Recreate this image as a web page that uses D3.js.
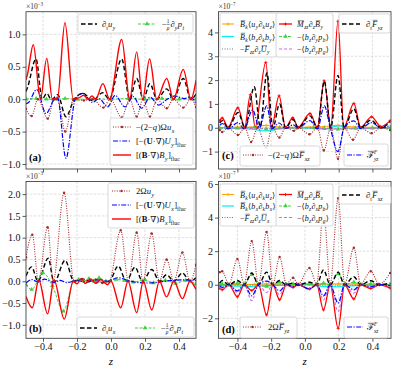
<!DOCTYPE html>
<html><head><meta charset="utf-8">
<script src="https://cdn.jsdelivr.net/npm/d3@7"></script>
<style>
body{margin:0;background:#fff}
text{font-family:"Liberation Serif","DejaVu Serif",serif}
</style>
</head><body>
<svg id="chart" width="397" height="368"></svg>
<script>
// ---- data: [z, value] pairs ----
// panel (a), units 1e-3
var aBlack = [[-0.5,0.12],[-0.49,0.19],[-0.441,0.62],[-0.405,0.0],[-0.378,0.09],[-0.35,-0.01],[-0.314,0.07],[-0.265,-0.27],[-0.216,0.0],[-0.163,0.09],[-0.11,-0.02],[-0.049,0.1],[-0.01,0.0],[0.063,0.62],[0.11,0.0],[0.151,0.32],[0.19,0.0],[0.229,0.24],[0.27,0.0],[0.328,0.16],[0.367,0.0],[0.425,0.32],[0.47,0.0],[0.5,0.08]];
var aGreen = [[-0.5,0.0],[-0.44,0.01],[-0.38,0.0],[-0.32,0.0],[-0.27,0.01],[-0.2,0.0],[-0.1,0.0],[0.0,0.0],[0.1,0.01],[0.2,0.0],[0.3,0.01],[0.4,0.0],[0.5,0.0]];
var aBrown = [[-0.5,-0.15],[-0.467,-0.26],[-0.43,0.0],[-0.372,-0.30],[-0.334,0.0],[-0.315,0.0],[-0.269,-0.50],[-0.22,0.0],[-0.16,-0.02],[-0.11,0.0],[-0.045,-0.13],[-0.005,0.0],[0.063,-0.28],[0.11,0.0],[0.151,-0.27],[0.188,0.0],[0.229,-0.27],[0.27,0.0],[0.328,-0.14],[0.367,0.0],[0.425,-0.13],[0.47,0.0],[0.5,-0.12]];
var aBlue = [[-0.5,-0.07],[-0.485,-0.05],[-0.437,0.15],[-0.382,-0.22],[-0.334,0.0],[-0.315,0.03],[-0.265,-0.91],[-0.21,0.0],[-0.165,0.09],[-0.11,-0.05],[-0.07,0.01],[-0.02,-0.12],[0.024,0.06],[0.082,-0.12],[0.13,0.04],[0.18,-0.14],[0.23,0.03],[0.28,-0.09],[0.33,0.0],[0.376,0.05],[0.43,0.01],[0.47,0.03],[0.5,-0.07]];
var aRed = [[-0.5,0.30],[-0.49,0.40],[-0.457,0.84],[-0.415,0.0],[-0.378,0.63],[-0.345,0.0],[-0.315,0.01],[-0.271,1.18],[-0.222,0.0],[-0.19,0.02],[-0.16,0.06],[-0.135,0.0],[-0.112,0.05],[-0.09,0.0],[-0.048,0.24],[-0.008,0.0],[0.063,0.92],[0.11,0.0],[0.151,0.73],[0.186,0.0],[0.227,0.62],[0.269,0.0],[0.328,0.32],[0.367,0.0],[0.425,0.46],[0.47,0.0],[0.5,0.29]];

// panel (b), units 1e-3
var bBlack = [[-0.5,0.12],[-0.467,0.33],[-0.43,0.0],[-0.369,0.53],[-0.335,-0.03],[-0.27,0.48],[-0.218,0.0],[-0.17,0.05],[-0.12,0.0],[-0.06,-0.03],[-0.01,0.0],[0.043,0.35],[0.09,0.0],[0.141,0.32],[0.185,0.0],[0.24,0.27],[0.285,0.0],[0.327,0.15],[0.37,0.0],[0.42,0.19],[0.465,0.0],[0.5,0.08]];
var bGreen = [[-0.5,-0.08],[-0.467,-0.19],[-0.4,0.19],[-0.345,-0.1],[-0.28,-0.69],[-0.22,0.0],[-0.19,0.04],[-0.16,0.0],[-0.13,0.06],[-0.1,0.0],[-0.07,0.08],[-0.03,0.0],[0.03,0.04],[0.08,0.02],[0.13,-0.02],[0.2,0.03],[0.25,-0.04],[0.32,0.02],[0.38,-0.05],[0.44,0.02],[0.5,-0.06]];
var bBrown = [[-0.5,0.55],[-0.463,1.07],[-0.427,0.0],[-0.373,1.24],[-0.34,0.0],[-0.276,2.03],[-0.218,0.0],[-0.17,0.05],[-0.13,0.0],[-0.09,0.04],[-0.05,-0.04],[-0.01,0.0],[0.057,1.17],[0.102,0.0],[0.151,1.12],[0.188,0.0],[0.239,1.10],[0.284,0.0],[0.327,0.50],[0.37,0.0],[0.42,0.66],[0.465,0.0],[0.5,0.38]];
var bBlue = [[-0.5,-0.04],[-0.465,0.04],[-0.43,-0.02],[-0.39,0.05],[-0.34,-0.03],[-0.3,0.02],[-0.26,-0.03],[-0.2,0.02],[-0.15,-0.02],[-0.08,0.03],[-0.02,0.0],[0.04,0.08],[0.1,0.02],[0.16,-0.03],[0.22,-0.04],[0.3,-0.01],[0.36,0.02],[0.42,0.03],[0.5,0.02]];
var bRed = [[-0.5,-0.35],[-0.463,-0.61],[-0.425,0.03],[-0.373,-0.75],[-0.335,0.03],[-0.275,-0.87],[-0.222,0.0],[-0.2,-0.06],[-0.175,0.06],[-0.15,-0.05],[-0.12,0.05],[-0.09,-0.05],[-0.06,0.04],[-0.02,-0.08],[0.0,0.0],[0.057,-0.61],[0.1,0.0],[0.151,-0.72],[0.19,0.0],[0.24,-0.66],[0.285,0.0],[0.327,-0.36],[0.37,0.0],[0.42,-0.40],[0.465,0.0],[0.5,-0.19]];

// panel (c), units 1e-7
var cOrange = [[-0.505,0.0],[-0.4,0.03],[-0.32,0.02],[-0.23,0.1],[-0.15,0.03],[-0.05,0.02],[0.03,0.03],[0.115,0.05],[0.196,0.1],[0.29,0.03],[0.4,0.02],[0.505,0.0]];
var cCyan = [[-0.505,0.0],[-0.4,-0.03],[-0.32,-0.06],[-0.23,-0.13],[-0.15,-0.05],[-0.05,0.0],[0.03,-0.02],[0.115,-0.05],[0.196,0.08],[0.29,-0.04],[0.4,-0.02],[0.505,0.0]];
var cGray = [[-0.505,0.0],[-0.3,-0.01],[-0.23,-0.02],[0.0,0.0],[0.196,-0.03],[0.505,0.0]];
var cRed = [[-0.505,0.3],[-0.49,0.41],[-0.455,0.02],[-0.397,0.84],[-0.357,0.02],[-0.323,1.39],[-0.295,0.02],[-0.232,2.74],[-0.198,0.02],[-0.153,1.34],[-0.115,0.02],[-0.072,0.42],[-0.04,0.02],[0.03,0.6],[0.074,0.02],[0.114,1.97],[0.153,0.02],[0.196,4.47],[0.23,0.02],[0.29,1.02],[0.33,0.02],[0.395,0.46],[0.45,0.05],[0.505,0.3]];
var cGreen = [[-0.505,-0.02],[-0.4,-0.02],[-0.3,0.02],[-0.23,-0.05],[-0.15,0.0],[-0.05,-0.02],[0.05,0.0],[0.115,-0.04],[0.196,-0.06],[0.3,-0.02],[0.4,-0.02],[0.505,0.0]];
var cMagenta = [[-0.505,0.0],[-0.3,-0.03],[-0.23,-0.05],[0.0,0.0],[0.2,-0.05],[0.505,0.0]];
var cBlack = [[-0.505,0.2],[-0.49,0.3],[-0.455,0.0],[-0.396,0.64],[-0.355,0.0],[-0.30,1.72],[-0.265,0.05],[-0.225,2.3],[-0.19,0.0],[-0.15,1.0],[-0.115,0.0],[-0.07,0.35],[-0.04,0.0],[0.03,0.5],[0.074,0.0],[0.115,1.95],[0.153,0.0],[0.196,2.2],[0.232,0.0],[0.29,0.8],[0.33,0.0],[0.39,0.32],[0.45,0.0],[0.505,0.25]];
var cBrown = [[-0.505,-0.1],[-0.49,-0.18],[-0.455,0.0],[-0.397,-0.3],[-0.357,0.0],[-0.319,-0.6],[-0.28,0.0],[-0.23,-0.83],[-0.195,0.0],[-0.151,-0.41],[-0.115,0.0],[-0.065,-0.13],[-0.04,0.0],[0.027,-0.27],[0.074,0.0],[0.112,-0.95],[0.153,0.0],[0.196,-1.3],[0.232,0.0],[0.285,-0.5],[0.33,0.0],[0.395,-0.23],[0.45,0.0],[0.505,-0.1]];
var cBlue = [[-0.505,0.1],[-0.49,0.18],[-0.455,-0.05],[-0.397,0.22],[-0.36,-0.05],[-0.31,0.75],[-0.27,0.0],[-0.226,0.92],[-0.195,-0.05],[-0.153,0.2],[-0.115,-0.03],[-0.07,0.12],[-0.04,0.0],[0.03,0.3],[0.074,-0.05],[0.115,0.92],[0.15,0.0],[0.196,-1.0],[0.232,0.0],[0.29,0.29],[0.33,-0.03],[0.394,0.22],[0.45,0.0],[0.505,0.1]];

// panel (d), units 1e-7
var dOrange = [[-0.505,0.0],[-0.3,0.02],[-0.227,0.05],[0.0,0.02],[0.2,0.05],[0.505,0.0]];
var dCyan = [[-0.505,-0.05],[-0.4,-0.08],[-0.315,-0.1],[-0.227,-0.05],[-0.1,-0.03],[0.0,0.0],[0.11,-0.1],[0.2,-0.12],[0.3,-0.05],[0.505,-0.02]];
var dGray = [[-0.505,0.0],[-0.3,-0.02],[0.0,0.0],[0.2,-0.03],[0.505,0.0]];
var dRed = [[-0.505,-0.2],[-0.49,-0.3],[-0.45,0.0],[-0.40,-0.72],[-0.36,0.0],[-0.315,-0.35],[-0.275,0.0],[-0.227,-1.8],[-0.19,0.0],[-0.15,-0.9],[-0.11,0.0],[-0.07,-0.16],[-0.04,0.0],[0.027,-0.25],[0.07,0.0],[0.11,-1.5],[0.15,0.0],[0.197,-2.6],[0.235,0.0],[0.29,-0.85],[0.33,0.0],[0.39,-0.22],[0.44,0.0],[0.505,-0.2]];
var dGreen = [[-0.505,0.0],[-0.49,0.05],[-0.45,0.0],[-0.40,0.1],[-0.36,0.0],[-0.315,0.6],[-0.275,0.0],[-0.227,-0.1],[-0.19,0.0],[-0.15,0.15],[-0.11,0.0],[-0.07,0.05],[0.027,0.05],[0.07,0.0],[0.11,0.1],[0.15,0.0],[0.197,0.66],[0.235,0.0],[0.29,0.15],[0.33,0.0],[0.39,0.05],[0.505,0.0]];
var dMagenta = [[-0.505,-0.1],[-0.49,-0.26],[-0.45,0.0],[-0.40,-0.46],[-0.36,0.0],[-0.315,-0.95],[-0.275,0.0],[-0.227,-0.46],[-0.19,0.0],[-0.15,-0.6],[-0.11,0.0],[-0.07,-0.1],[-0.04,0.0],[0.027,-0.2],[0.07,0.0],[0.11,-0.9],[0.15,0.0],[0.197,-1.6],[0.235,0.0],[0.29,-0.5],[0.33,0.0],[0.39,-0.15],[0.44,0.0],[0.505,-0.1]];
var dBlack = [[-0.505,0.1],[-0.49,0.25],[-0.45,0.0],[-0.40,0.25],[-0.36,0.0],[-0.315,0.7],[-0.275,0.0],[-0.227,0.75],[-0.19,0.0],[-0.15,0.25],[-0.11,0.0],[-0.07,0.1],[-0.04,0.0],[0.027,0.15],[0.07,0.0],[0.11,0.88],[0.15,0.0],[0.197,0.75],[0.235,0.0],[0.29,0.48],[0.33,0.0],[0.39,0.24],[0.44,0.0],[0.505,0.1]];
var dBrown = [[-0.505,0.75],[-0.49,0.8],[-0.45,0.05],[-0.40,1.53],[-0.36,0.05],[-0.315,2.6],[-0.275,0.05],[-0.227,3.15],[-0.19,0.05],[-0.15,1.65],[-0.11,0.05],[-0.07,0.42],[-0.04,0.05],[0.027,1.0],[0.07,0.05],[0.11,4.5],[0.15,0.05],[0.197,5.15],[0.235,0.05],[0.29,2.2],[0.33,0.05],[0.39,0.8],[0.44,0.05],[0.505,0.7]];
var dBlue = [[-0.505,-0.05],[-0.49,-0.16],[-0.45,0.0],[-0.40,-0.36],[-0.36,0.0],[-0.315,-0.66],[-0.275,0.0],[-0.227,0.22],[-0.19,0.0],[-0.15,-0.36],[-0.11,0.0],[-0.07,-0.1],[-0.04,0.0],[0.027,-0.26],[0.07,0.0],[0.11,-0.66],[0.15,0.0],[0.197,-1.1],[0.235,0.0],[0.29,-0.3],[0.33,0.0],[0.39,-0.12],[0.44,0.0],[0.505,-0.05]];

// ticks
var xTicks = [-0.4, -0.2, 0.0, 0.2, 0.4];
var aTicks = [-1.0, -0.5, 0.0, 0.5, 1.0];
var bTicks = [-1.0, -0.5, 0.0, 0.5, 1.0, 1.5, 2.0];
var cTicks = [-1, 0, 1, 2, 3, 4];
var dTicks = [-2, 0, 2, 4, 6];

// ---- styles ----
var sty = {
  black:   {c:"#000",    w:1.4, dash:"4.5,2.5"},
  green:   {c:"#3fcf3f", w:1.0, dash:"3,1.5", mk:"tri"},
  brown:   {c:"#a52a2a", w:1.1, dash:"1,1.4", mk:"dot"},
  blue:    {c:"#0000ff", w:1.2, dash:"5,1.5,1.2,1.5"},
  red:     {c:"#ff0000", w:1.4},
  redp:    {c:"#ff0000", w:1.3, mk:"plus"},
  orange:  {c:"#ffa500", w:1.1, mk:"plus"},
  cyan:    {c:"#00eeee", w:1.2},
  gray:    {c:"#777",    w:1.0, dash:"1,1.5"},
  magenta: {c:"#c86dea", w:1.1, dash:"3,2"}
};

var svg = d3.select("#chart");

// math-ish label: tokens [text, flags]; flags i=italic b=bold s=sub p=sup o=overline
function mtext(g, x, y, toks, fs, col) {
  var cx = x;
  toks.forEach(function(t) {
    if (t[0] === "frac") {
      var n = g.append("text").attr("x", cx).attr("y", y - fs*0.42).attr("font-size", fs*0.62).attr("fill", col).text(t[1]);
      var dn = g.append("text").attr("x", cx).attr("y", y + fs*0.3).attr("font-size", fs*0.62).attr("fill", col).style("font-style","italic").text(t[2]);
      var w = Math.max(n.node().getComputedTextLength(), dn.node().getComputedTextLength());
      g.append("line").attr("x1", cx).attr("x2", cx + w).attr("y1", y - fs*0.3).attr("y2", y - fs*0.3).attr("stroke", col).attr("stroke-width", 0.5);
      cx += w + 1;
      return;
    }
    if (t[0] === "ss") {
      var sp = g.append("text").attr("x", cx).attr("y", y - fs*0.42).attr("font-size", fs*0.62).attr("fill", col).style("font-style","italic").text(t[1]);
      var sb = g.append("text").attr("x", cx).attr("y", y + fs*0.3).attr("font-size", fs*0.62).attr("fill", col).style("font-style","italic").text(t[2]);
      cx += Math.max(sp.node().getComputedTextLength(), sb.node().getComputedTextLength()) + 0.5;
      return;
    }
    var f = t[1] || "";
    var small = f.indexOf("s") >= 0 || f.indexOf("p") >= 0;
    var size = small ? fs*0.68 : fs;
    var dy = f.indexOf("s") >= 0 ? fs*0.3 : (f.indexOf("p") >= 0 ? -fs*0.42 : 0);
    var el = g.append("text").attr("x", cx).attr("y", y + dy).attr("font-size", size).attr("fill", col)
      .style("font-style", f.indexOf("i") >= 0 ? "italic" : "normal")
      .style("font-weight", f.indexOf("b") >= 0 ? "bold" : "normal")
      .text(t[0]);
    var w = el.node().getComputedTextLength();
    if (f.indexOf("o") >= 0) {
      var oy = y + dy - size*0.78;
      g.append("line").attr("x1", cx + 0.8).attr("x2", cx + w + 0.4).attr("y1", oy).attr("y2", oy).attr("stroke", col).attr("stroke-width", 0.5);
    }
    cx += w + (f.indexOf("i") >= 0 ? size*0.06 : 0);
  });
  return cx - x;
}

function marker(g, type, x, y, col) {
  if (type === "dot") g.append("circle").attr("cx", x).attr("cy", y).attr("r", 1.2).attr("fill", col);
  else if (type === "tri") g.append("path").attr("d", d3.symbol(d3.symbolTriangle, 9)()).attr("transform", "translate(" + x + "," + y + ")").attr("fill", col);
  else if (type === "plus") g.append("path").attr("d", "M" + (x-1.6) + "," + y + "H" + (x+1.6) + "M" + x + "," + (y-1.6) + "V" + (y+1.6)).attr("stroke", col).attr("stroke-width", 0.8);
}

function panel(o) {
  var x = d3.scaleLinear().domain(o.xd).range([o.x0, o.x1]);
  var y = d3.scaleLinear().domain(o.yd).range([o.y1, o.y0]);
  var g = svg.append("g");
  var id = "clip" + o.name;
  svg.append("clipPath").attr("id", id).append("rect")
    .attr("x", o.x0).attr("y", o.y0).attr("width", o.x1 - o.x0).attr("height", o.y1 - o.y0);

  // grid
  xTicks.forEach(function(t) {
    g.append("line").attr("x1", x(t)).attr("x2", x(t)).attr("y1", o.y0).attr("y2", o.y1)
      .attr("stroke", "#d0d0d0").attr("stroke-width", 0.7).attr("stroke-dasharray", "2.5,1.5");
  });
  o.yt.forEach(function(t) {
    g.append("line").attr("x1", o.x0).attr("x2", o.x1).attr("y1", y(t)).attr("y2", y(t))
      .attr("stroke", "#d0d0d0").attr("stroke-width", 0.7).attr("stroke-dasharray", "2.5,1.5");
  });

  // series
  var line = d3.line().x(function(d) { return x(d[0]); }).y(function(d) { return y(d[1]); }).curve(d3.curveMonotoneX);
  var pg = g.append("g").attr("clip-path", "url(#" + id + ")");
  o.series.forEach(function(s) {
    var st = sty[s.st];
    pg.append("path").attr("d", line(s.data)).attr("fill", "none").attr("stroke", st.c)
      .attr("stroke-width", st.w).attr("stroke-dasharray", st.dash || null);
    if (st.mk) s.data.forEach(function(d) { marker(pg, st.mk, x(d[0]), y(d[1]), st.c); });
  });

  // axes
  var ax = g.append("g").attr("transform", "translate(" + o.x0 + ",0)")
    .call(d3.axisLeft(y).tickValues(o.yt).tickSize(3.5).tickPadding(2).tickFormat(o.yf));
  var bx = g.append("g").attr("transform", "translate(0," + o.y1 + ")")
    .call(d3.axisBottom(x).tickValues(xTicks).tickSize(3.5).tickPadding(1.5).tickFormat(o.xlab ? d3.format(".1f") : ""));
  [ax, bx].forEach(function(a) {
    a.select(".domain").remove();
    a.selectAll("line").attr("stroke", "#333").attr("stroke-width", 0.8);
    a.selectAll("text").attr("font-family", "Liberation Serif, serif").attr("font-size", 10).attr("fill", "#111");
  });
  g.append("rect").attr("x", o.x0).attr("y", o.y0).attr("width", o.x1 - o.x0).attr("height", o.y1 - o.y0)
    .attr("fill", "none").attr("stroke", "#444").attr("stroke-width", 0.9);

  // offset text
  var ot = g.append("g");
  mtext(ot, o.x0, o.y0 - 3, [["×10", ""], [o.exp, "p"]], 7.5, "#333");

  if (o.xlab) {
    g.append("text").attr("x", (o.x0 + o.x1) / 2).attr("y", 365).attr("text-anchor", "middle")
      .attr("font-size", 11).style("font-style", "italic").text("z");
  }
  // panel tag
  g.append("text").attr("x", o.tag[0]).attr("y", o.tag[1]).attr("font-size", 10.5).attr("font-weight", "bold").text(o.tag[2]);

  // legends
  o.legends.forEach(function(L) {
    var lg = g.append("g");
    lg.append("rect").attr("x", L.box[0]).attr("y", L.box[1]).attr("width", L.box[2]).attr("height", L.box[3])
      .attr("rx", 2).attr("fill", "#fff").attr("fill-opacity", 0.85).attr("stroke", "#cfcfcf").attr("stroke-width", 0.8);
    L.items.forEach(function(it) {
      var st = sty[it.st];
      lg.append("line").attr("x1", it.hx[0]).attr("x2", it.hx[1]).attr("y1", it.y).attr("y2", it.y)
        .attr("stroke", st.c).attr("stroke-width", st.w).attr("stroke-dasharray", st.dash || null);
      if (st.mk) marker(lg, st.mk, (it.hx[0] + it.hx[1]) / 2, it.y, st.c);
      mtext(lg, it.tx, it.y + 3, it.lab, L.fs || 8.6, "#111");
    });
  });
}

var fmt1 = d3.format(".1f"), fmt0 = d3.format("d");

panel({
  name: "a", x0: 26, x1: 196, y0: 11.7, y1: 169, xd: [-0.5, 0.5], yd: [-1.077, 1.35],
  yt: aTicks, yf: fmt1, xlab: false, exp: "−3", tag: [29, 161, "(a)"],
  series: [{data: aBlack, st: "black"}, {data: aGreen, st: "green"}, {data: aBrown, st: "brown"}, {data: aBlue, st: "blue"}, {data: aRed, st: "red"}],
  legends: [
    {box: [78, 14, 115, 19], items: [
      {st: "black", y: 24, hx: [81, 97], tx: 102, lab: [["∂",""],["t","s"],["u","i"],["y","si"]]},
      {st: "green", y: 24, hx: [138, 156], tx: 162, lab: [["−",""],["frac","1","ρ"],["∂",""],["y","si"],["p","i"],["t","si"]]}
    ]},
    {box: [110, 118, 83, 47], items: [
      {st: "brown", y: 127, hx: [113, 131], tx: 136, lab: [["−(2−",""],["q","i"],[")Ω",""],["u","i"],["x","si"]]},
      {st: "blue", y: 141, hx: [113, 131], tx: 136, lab: [["[−(",""],["U","b"],["·∇)",""],["U","i"],["y","si"],["]",""],["fluc","s"]]},
      {st: "red", y: 155, hx: [113, 131], tx: 136, lab: [["[(",""],["B","b"],["·∇)",""],["B","i"],["y","si"],["]",""],["fluc","s"]]}
    ]}
  ]
});

panel({
  name: "b", x0: 26, x1: 196, y0: 181.5, y1: 338.3, xd: [-0.5, 0.5], yd: [-1.31, 2.29],
  yt: bTicks, yf: fmt1, xlab: true, exp: "−3", tag: [29, 332, "(b)"],
  series: [{data: bBlack, st: "black"}, {data: bGreen, st: "green"}, {data: bBrown, st: "brown"}, {data: bBlue, st: "blue"}, {data: bRed, st: "red"}],
  legends: [
    {box: [108, 183, 86, 45], items: [
      {st: "brown", y: 191, hx: [112, 131], tx: 136, lab: [["2Ω",""],["u","i"],["y","si"]]},
      {st: "blue", y: 205, hx: [112, 131], tx: 136, lab: [["[−(",""],["U","b"],["·∇)",""],["U","i"],["x","si"],["]",""],["fluc","s"]]},
      {st: "red", y: 219, hx: [112, 131], tx: 136, lab: [["[(",""],["B","b"],["·∇)",""],["B","i"],["x","si"],["]",""],["fluc","s"]]}
    ]},
    {box: [77, 317, 117, 20], items: [
      {st: "black", y: 328, hx: [80, 97], tx: 102, lab: [["∂",""],["t","s"],["u","i"],["x","si"]]},
      {st: "green", y: 328, hx: [135, 155], tx: 161, lab: [["−",""],["frac","1","ρ"],["∂",""],["x","si"],["p","i"],["t","si"]]}
    ]}
  ]
});

panel({
  name: "c", x0: 218.5, x1: 391, y0: 11.7, y1: 169, xd: [-0.512, 0.51], yd: [-1.73, 4.87],
  yt: cTicks, yf: fmt0, xlab: false, exp: "−7", tag: [222, 159, "(c)"],
  series: [{data: cOrange, st: "orange"}, {data: cCyan, st: "cyan"}, {data: cGray, st: "gray"}, {data: cRed, st: "redp"}, {data: cGreen, st: "green"}, {data: cMagenta, st: "magenta"}, {data: cBlack, st: "black"}, {data: cBrown, st: "brown"}, {data: cBlue, st: "blue"}],
  legends: [
    {fs: 8, box: [220, 13, 57, 44], items: [
      {st: "orange", y: 24, hx: [222, 234], tx: 240, lab: [["B","io"],["k","si"],["⟨",""],["u","i"],["y","si"],["∂",""],["k","si"],["u","i"],["z","si"],["⟩",""]]},
      {st: "cyan", y: 36.5, hx: [222, 234], tx: 240, lab: [["B","io"],["k","si"],["⟨",""],["b","i"],["z","si"],["∂",""],["k","si"],["b","i"],["y","si"],["⟩",""]]},
      {st: "gray", y: 49, hx: [222, 234], tx: 240, lab: [["−",""],["F","io"],["zz","si"],["∂",""],["z","si"],["U","io"],["y","si"]]}
    ]},
    {fs: 8, box: [276, 13, 57, 44], items: [
      {st: "redp", y: 24, hx: [279, 292], tx: 297, lab: [["M","io"],["zz","si"],["∂",""],["z","si"],["B","io"],["y","si"]]},
      {st: "green", y: 36.5, hx: [279, 292], tx: 297, lab: [["−⟨",""],["b","i"],["z","si"],["∂",""],["y","si"],["p","i"],["b","si"],["⟩",""]]},
      {st: "magenta", y: 49, hx: [279, 292], tx: 297, lab: [["−⟨",""],["b","i"],["z","si"],["∂",""],["y","si"],["p","i"],["g","si"],["⟩",""]]}
    ]},
    {fs: 8.6, box: [339, 14, 51, 19], items: [
      {st: "black", y: 24, hx: [342, 360], tx: 366, lab: [["∂",""],["t","s"],["F","io"],["yz","si"]]}
    ]},
    {fs: 8.6, box: [240, 146, 80, 20], items: [
      {st: "brown", y: 155, hx: [243, 263], tx: 268, lab: [["−(2−",""],["q","i"],[")Ω",""],["F","io"],["xz","si"]]}
    ]},
    {fs: 8.6, box: [344, 144, 44, 22], items: [
      {st: "blue", y: 155, hx: [347, 363], tx: 367, lab: [["ℱ","o"],["ss","F","yz"]]}
    ]}
  ]
});

panel({
  name: "d", x0: 218.5, x1: 391, y0: 181.5, y1: 338.3, xd: [-0.512, 0.51], yd: [-3.19, 6.15],
  yt: dTicks, yf: fmt0, xlab: true, exp: "−7", tag: [222, 333, "(d)"],
  series: [{data: dOrange, st: "orange"}, {data: dCyan, st: "cyan"}, {data: dGray, st: "gray"}, {data: dRed, st: "redp"}, {data: dGreen, st: "green"}, {data: dMagenta, st: "magenta"}, {data: dBlack, st: "black"}, {data: dBrown, st: "brown"}, {data: dBlue, st: "blue"}],
  legends: [
    {fs: 8, box: [220, 184, 57, 42], items: [
      {st: "orange", y: 194.5, hx: [222, 234], tx: 240, lab: [["B","io"],["k","si"],["⟨",""],["u","i"],["x","si"],["∂",""],["k","si"],["u","i"],["z","si"],["⟩",""]]},
      {st: "cyan", y: 206, hx: [222, 234], tx: 240, lab: [["B","io"],["k","si"],["⟨",""],["b","i"],["x","si"],["∂",""],["k","si"],["b","i"],["x","si"],["⟩",""]]},
      {st: "gray", y: 217.5, hx: [222, 234], tx: 240, lab: [["−",""],["F","io"],["zz","si"],["∂",""],["z","si"],["U","io"],["x","si"]]}
    ]},
    {fs: 8, box: [276, 184, 57, 42], items: [
      {st: "redp", y: 194.5, hx: [279, 292], tx: 297, lab: [["M","io"],["zz","si"],["∂",""],["z","si"],["B","io"],["x","si"]]},
      {st: "green", y: 206, hx: [279, 292], tx: 297, lab: [["−⟨",""],["b","i"],["z","si"],["∂",""],["x","si"],["p","i"],["b","si"],["⟩",""]]},
      {st: "magenta", y: 217.5, hx: [279, 292], tx: 297, lab: [["−⟨",""],["b","i"],["z","si"],["∂",""],["x","si"],["p","i"],["g","si"],["⟩",""]]}
    ]},
    {fs: 8.6, box: [339, 186, 52, 18], items: [
      {st: "black", y: 195, hx: [342, 360], tx: 366, lab: [["∂",""],["t","s"],["F","io"],["xz","si"]]}
    ]},
    {fs: 8.6, box: [240, 317, 57, 21], items: [
      {st: "brown", y: 327, hx: [243, 262], tx: 268, lab: [["2Ω",""],["F","io"],["yz","si"]]}
    ]},
    {fs: 8.6, box: [344, 317, 44, 21], items: [
      {st: "blue", y: 327, hx: [347, 363], tx: 367, lab: [["ℱ","o"],["ss","F","xz"]]}
    ]}
  ]
});
</script>
</body></html>
